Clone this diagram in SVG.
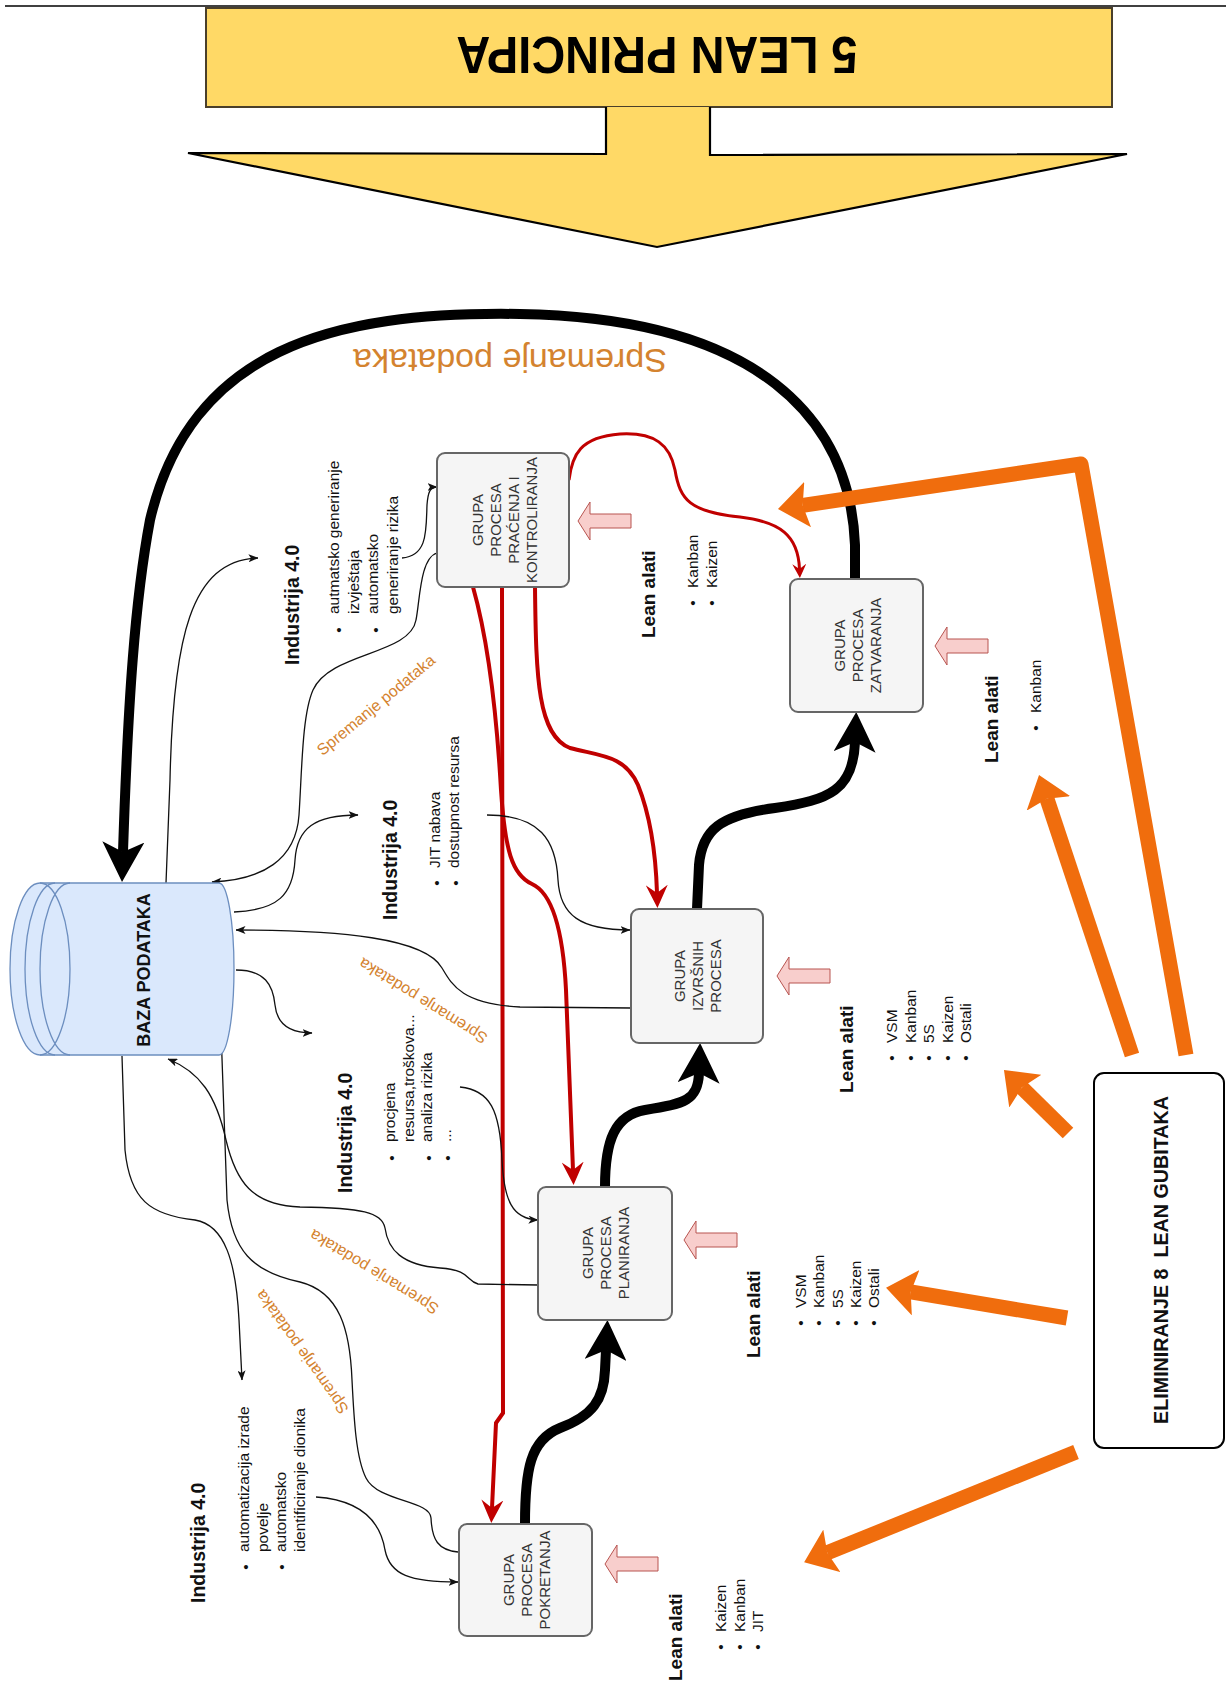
<svg xmlns="http://www.w3.org/2000/svg" width="1226" height="1683" viewBox="0 0 1226 1683">
<defs>
<style>
.node rect{fill:#f5f5f5;stroke:#666;stroke-width:2}
.nt{font-family:"Liberation Sans",Arial,sans-serif;font-size:15px;fill:#333;text-anchor:middle;dominant-baseline:central}
.li{font-family:"Liberation Sans",Arial,sans-serif;font-size:15.5px;fill:#111;dominant-baseline:central}
.bu{font-family:"Liberation Sans",Arial,sans-serif;font-size:15.5px;fill:#111;text-anchor:middle;dominant-baseline:central}
.hd{font-family:"Liberation Sans",Arial,sans-serif;font-size:19px;font-weight:bold;fill:#111;dominant-baseline:central}
.ind{font-family:"Liberation Sans",Arial,sans-serif;font-size:19.5px;font-weight:bold;fill:#111;dominant-baseline:central}
.sp{font-family:"Liberation Sans",Arial,sans-serif;font-size:16px;fill:#D4832F;text-anchor:middle;dominant-baseline:central}
.thin{fill:none;stroke:#111;stroke-width:1.3;marker-end:url(#mThin)}
.red{fill:none;stroke:#C00000;stroke-width:4;marker-end:url(#mRed)}
.redS{fill:none;stroke:#C00000;stroke-width:3;marker-end:url(#mRedS)}
.blk{fill:none;stroke:#000;stroke-width:10;marker-end:url(#mBlack)}
.org{fill:none;stroke:#F06D0D;stroke-width:15;stroke-linejoin:round;marker-end:url(#mOrg)}
.pink{fill:#F8CECC;stroke:#B85450;stroke-width:1}
</style>
<marker id="mThin" viewBox="0 0 10 8" refX="9.5" refY="4" markerWidth="10" markerHeight="8" markerUnits="userSpaceOnUse" orient="auto"><path d="M0,0 L10,4 L0,8 L2.5,4 Z" fill="#111"/></marker>
<marker id="mBlack" viewBox="0 0 40 42" refX="10" refY="21" markerWidth="40" markerHeight="42" markerUnits="userSpaceOnUse" orient="auto"><path d="M0,0 L40,21 L0,42 L10,21 Z" fill="#000"/></marker>
<marker id="mRed" viewBox="0 0 23 22" refX="8" refY="11" markerWidth="23" markerHeight="22" markerUnits="userSpaceOnUse" orient="auto"><path d="M0,0 L23,11 L0,22 L8,11 Z" fill="#C00000"/></marker>
<marker id="mRedS" viewBox="0 0 14 14" refX="5" refY="7" markerWidth="14" markerHeight="14" markerUnits="userSpaceOnUse" orient="auto"><path d="M0,0 L14,7 L0,14 L5,7 Z" fill="#C00000"/></marker>
<marker id="mOrg" viewBox="0 0 30 46" refX="5" refY="23" markerWidth="30" markerHeight="46" markerUnits="userSpaceOnUse" orient="auto"><path d="M0,0 L30,23 L0,46 L5,23 Z" fill="#F06D0D"/></marker>
<path id="pk" d="M0,0 L12,-19 L12,-7 L53,-7 L53,7 L12,7 L12,19 Z"/>
</defs>

<rect width="1226" height="1683" fill="#fff"/>
<line x1="5" y1="6" x2="1226" y2="6" stroke="#000" stroke-width="1.5"/>

<g id="lean-principi">
<rect x="206" y="8" width="906" height="99" fill="#FFD966" stroke="#4a3f2a" stroke-width="2"/>
<path d="M606,107 L606,154 L188,153 L657,247 L1127,154 L710,155 L710,107" fill="#FFD966" stroke="#000" stroke-width="2.2" stroke-linejoin="miter"/>
<text transform="translate(657 55) rotate(180) scale(1 1.1)" font-family="Liberation Sans, Arial, sans-serif" font-size="47" font-weight="bold" fill="#000" text-anchor="middle" dominant-baseline="central">5 LEAN PRINCIPA</text>
</g>

<g id="connectors">
<path class="blk" stroke-width="9" d="M855,579 L855,545 C850,420 760,318 520,314 C330,311 190,350 150,520 C135,600 128,700 123,852"/>
<path class="blk" d="M525,1524 C525,1470 530,1440 560,1428 C592,1416 604,1400 605,1370 L606,1350"/>
<path class="blk" d="M605,1187 C605,1140 615,1115 645,1110 C685,1104 698,1100 699,1073"/>
<path class="blk" d="M697,909 L699,865 C702,830 720,815 775,808 C830,800 853,790 855,742"/>
<path class="red" d="M473,587 C488,640 497,720 501,790 C505,850 512,875 532,884 C552,893 563,930 566,990 L573,1170"/>
<path class="red" d="M502,587 L503,1413 L496,1423 L492,1508"/>
<path class="red" d="M535,587 C536,680 538,735 570,748 C600,756 625,755 638,785 C652,820 656,860 657,893"/>
<path class="redS" d="M569,480 C572,455 580,437 620,434 C655,432 670,445 675,470 C680,500 690,512 740,517 C780,522 798,535 799.5,569"/>
<path class="thin" d="M166,883 L170,780 C173,640 190,560 258,558"/>
<path class="thin" d="M402,558 C428,556 426,530 427,505 C428,492 430,487 437,487"/>
<path class="thin" d="M437,553 C420,558 420,600 416,620 C410,655 330,652 313,690 C302,715 302,770 299,815 C296,860 262,880 212,882"/>
<path class="thin" d="M234,912 C278,910 293,895 295,860 C297,828 315,815 358,815"/>
<path class="thin" d="M487,815 C540,815 556,840 558,880 C560,915 580,930 630,930"/>
<path class="thin" d="M631,1008 L520,1007 C462,1004 452,985 442,968 C425,938 340,930 236,930"/>
<path class="thin" d="M236,970 C265,970 273,985 275,1005 C277,1025 290,1033 312,1033"/>
<path class="thin" d="M460,1087 C490,1090 500,1110 502,1160 C504,1200 512,1219 538,1220"/>
<path class="thin" d="M538,1285 L478,1284 C466,1281 471,1270 440,1268 C402,1265 388,1250 385,1228 C382,1212 362,1208 300,1207 C252,1205 236,1182 226,1140 C216,1095 200,1072 168,1059"/>
<path class="thin" d="M458,1552 C438,1550 432,1540 431,1518 C430,1500 378,1502 366,1478 C356,1458 354,1420 352,1380 C350,1330 340,1292 300,1282 C252,1272 232,1250 227,1200 L221,1030"/>
<path class="thin" d="M122,1056 L125,1150 C130,1200 150,1215 195,1220 C225,1225 236,1262 239,1320 L242,1380"/>
<path class="thin" d="M316,1497 C360,1500 380,1520 385,1550 C390,1575 410,1582 458,1582"/>
<path class="org" d="M1186,1055 L1081,464 L802.7,505.3"/>
<path class="org" d="M1132,1055 L1046.9,798.7"/>
<path class="org" d="M1068,1133 L1021.8,1087.6"/>
<path class="org" d="M1067,1318 L910.7,1291.9"/>
<path class="org" d="M1076,1452 L827.3,1552.8"/>
<use href="#pk" class="pink" x="578" y="521"/>
<use href="#pk" class="pink" x="935" y="646"/>
<use href="#pk" class="pink" x="777" y="976"/>
<use href="#pk" class="pink" x="684" y="1240"/>
<use href="#pk" class="pink" x="605" y="1564"/>
</g>

<g id="labels">
<text transform="translate(510 361) rotate(180)" font-family="Liberation Sans, Arial, sans-serif" font-size="34" fill="#D4832F" text-anchor="middle" dominant-baseline="central">Spremanje podataka</text>
<text class="sp" transform="translate(376 705) rotate(-39.6)">Spremanje podataka</text>
<text class="sp" transform="translate(423 1001) rotate(211.8)">Spremanje podataka</text>
<text class="sp" transform="translate(374 1272) rotate(211.4)">Spremanje podataka</text>
<text class="sp" transform="translate(302 1352) rotate(234.6)">Spremanje podataka</text>
</g>

<g id="baza">
<path d="M40,883 L219,883 A15,86 0 0 1 219,1055 L40,1055 A30,86 0 0 1 40,883 Z" fill="#dae8fc" stroke="#6c8ebf" stroke-width="1.3"/>
<path d="M55,883 A30,86 0 0 0 55,1055 M70,883 A30,86 0 0 0 70,1055 M40,883 A30,86 0 0 1 40,1055" fill="none" stroke="#6c8ebf" stroke-width="1.3"/>
<text transform="translate(144 970) rotate(-90)" font-family="Liberation Sans, Arial, sans-serif" font-size="18" font-weight="bold" fill="#111" text-anchor="middle" dominant-baseline="central">BAZA PODATAKA</text>
</g>

<g id="kontrola" class="node">
<rect x="437" y="453" width="132" height="134" rx="8"/>
<text class="nt" transform="translate(477.5 520) rotate(-90)">GRUPA</text>
<text class="nt" transform="translate(495.5 520) rotate(-90)">PROCESA</text>
<text class="nt" transform="translate(513.5 520) rotate(-90)">PRAĆENJA I</text>
<text class="nt" transform="translate(531.5 520) rotate(-90)">KONTROLIRANJA</text>
</g>
<g id="zatvaranje" class="node">
<rect x="790" y="579" width="133" height="133" rx="8"/>
<text class="nt" transform="translate(839 645.5) rotate(-90)">GRUPA</text>
<text class="nt" transform="translate(857 645.5) rotate(-90)">PROCESA</text>
<text class="nt" transform="translate(875 645.5) rotate(-90)">ZATVARANJA</text>
</g>
<g id="izvrsenje" class="node">
<rect x="631" y="909" width="132" height="134" rx="8"/>
<text class="nt" transform="translate(679 976) rotate(-90)">GRUPA</text>
<text class="nt" transform="translate(697 976) rotate(-90)">IZVRŠNIH</text>
<text class="nt" transform="translate(715 976) rotate(-90)">PROCESA</text>
</g>
<g id="planiranje" class="node">
<rect x="538" y="1187" width="134" height="133" rx="8"/>
<text class="nt" transform="translate(587 1253) rotate(-90)">GRUPA</text>
<text class="nt" transform="translate(605 1253) rotate(-90)">PROCESA</text>
<text class="nt" transform="translate(623 1253) rotate(-90)">PLANIRANJA</text>
</g>
<g id="pokretanje" class="node">
<rect x="459" y="1524" width="133" height="112" rx="8"/>
<text class="nt" transform="translate(508 1580) rotate(-90)">GRUPA</text>
<text class="nt" transform="translate(526 1580) rotate(-90)">PROCESA</text>
<text class="nt" transform="translate(544 1580) rotate(-90)">POKRETANJA</text>
</g>

<g id="eliminiranje">
<rect x="1094" y="1073" width="130" height="375" rx="10" fill="#fff" stroke="#000" stroke-width="2"/>
<text xml:space="preserve" transform="translate(1161 1260) rotate(-90)" font-family="Liberation Sans, Arial, sans-serif" font-size="19.7" font-weight="bold" fill="#111" text-anchor="middle" dominant-baseline="central">ELIMINIRANJE 8  LEAN GUBITAKA</text>
</g>

<g id="lean-alati-kontrola">
<text class="hd" transform="translate(648 638) rotate(-90)">Lean alati</text>
<text class="bu" transform="translate(692 603) rotate(-90)">•</text>
<text class="bu" transform="translate(711 603) rotate(-90)">•</text>
<text class="li" transform="translate(692 588) rotate(-90)">Kanban</text>
<text class="li" transform="translate(711 588) rotate(-90)">Kaizen</text>
</g>
<g id="lean-alati-zatvaranje">
<text class="hd" transform="translate(991 763) rotate(-90)">Lean alati</text>
<text class="bu" transform="translate(1035 728) rotate(-90)">•</text>
<text class="li" transform="translate(1035 713) rotate(-90)">Kanban</text>
</g>
<g id="lean-alati-izvrsenje">
<text class="hd" transform="translate(846 1093) rotate(-90)">Lean alati</text>
<text class="bu" transform="translate(891 1058) rotate(-90)">•</text>
<text class="bu" transform="translate(910 1058) rotate(-90)">•</text>
<text class="bu" transform="translate(928 1058) rotate(-90)">•</text>
<text class="bu" transform="translate(947 1058) rotate(-90)">•</text>
<text class="bu" transform="translate(965 1058) rotate(-90)">•</text>
<text class="li" transform="translate(891 1043) rotate(-90)">VSM</text>
<text class="li" transform="translate(910 1043) rotate(-90)">Kanban</text>
<text class="li" transform="translate(928 1043) rotate(-90)">5S</text>
<text class="li" transform="translate(947 1043) rotate(-90)">Kaizen</text>
<text class="li" transform="translate(965 1043) rotate(-90)">Ostali</text>
</g>
<g id="lean-alati-planiranje">
<text class="hd" transform="translate(753 1358) rotate(-90)">Lean alati</text>
<text class="bu" transform="translate(800 1323) rotate(-90)">•</text>
<text class="bu" transform="translate(818 1323) rotate(-90)">•</text>
<text class="bu" transform="translate(837 1323) rotate(-90)">•</text>
<text class="bu" transform="translate(855 1323) rotate(-90)">•</text>
<text class="bu" transform="translate(873 1323) rotate(-90)">•</text>
<text class="li" transform="translate(800 1308) rotate(-90)">VSM</text>
<text class="li" transform="translate(818 1308) rotate(-90)">Kanban</text>
<text class="li" transform="translate(837 1308) rotate(-90)">5S</text>
<text class="li" transform="translate(855 1308) rotate(-90)">Kaizen</text>
<text class="li" transform="translate(873 1308) rotate(-90)">Ostali</text>
</g>
<g id="lean-alati-pokretanje">
<text class="hd" transform="translate(675 1681) rotate(-90)">Lean alati</text>
<text class="bu" transform="translate(720 1647) rotate(-90)">•</text>
<text class="bu" transform="translate(739 1647) rotate(-90)">•</text>
<text class="bu" transform="translate(757 1647) rotate(-90)">•</text>
<text class="li" transform="translate(720 1632) rotate(-90)">Kaizen</text>
<text class="li" transform="translate(739 1632) rotate(-90)">Kanban</text>
<text class="li" transform="translate(757 1632) rotate(-90)">JIT</text>
</g>

<g id="industrija-kontrola">
<text class="ind" transform="translate(292 665) rotate(-90)">Industrija 4.0</text>
<text class="bu" transform="translate(338 630) rotate(-90)">•</text>
<text class="bu" transform="translate(375 630) rotate(-90)">•</text>
<text class="li" transform="translate(333 614) rotate(-90)">autmatsko generiranje</text>
<text class="li" transform="translate(353 614) rotate(-90)">izvještaja</text>
<text class="li" transform="translate(372 614) rotate(-90)">automatsko</text>
<text class="li" transform="translate(392 614) rotate(-90)">generiranje rizika</text>
</g>
<g id="industrija-izvrsenje">
<text class="ind" transform="translate(390 920) rotate(-90)">Industrija 4.0</text>
<text class="bu" transform="translate(436 883) rotate(-90)">•</text>
<text class="bu" transform="translate(455 883) rotate(-90)">•</text>
<text class="li" transform="translate(434 868) rotate(-90)">JIT nabava</text>
<text class="li" transform="translate(453 868) rotate(-90)">dostupnost resursa</text>
</g>
<g id="industrija-planiranje">
<text class="ind" transform="translate(345 1193) rotate(-90)">Industrija 4.0</text>
<text class="bu" transform="translate(391 1158) rotate(-90)">•</text>
<text class="bu" transform="translate(428 1158) rotate(-90)">•</text>
<text class="bu" transform="translate(447 1158) rotate(-90)">•</text>
<text class="li" transform="translate(389 1142) rotate(-90)">procjena</text>
<text class="li" transform="translate(408 1142) rotate(-90)">resursa,troškova...</text>
<text class="li" transform="translate(426 1142) rotate(-90)">analiza rizika</text>
<text class="li" transform="translate(445 1142) rotate(-90)">...</text>
</g>
<g id="industrija-pokretanje">
<text class="ind" transform="translate(198 1603) rotate(-90)">Industrija 4.0</text>
<text class="bu" transform="translate(245 1567) rotate(-90)">•</text>
<text class="bu" transform="translate(281 1567) rotate(-90)">•</text>
<text class="li" transform="translate(243 1552) rotate(-90)">automatizacija izrade</text>
<text class="li" transform="translate(262 1552) rotate(-90)">povelje</text>
<text class="li" transform="translate(280 1552) rotate(-90)">automatsko</text>
<text class="li" transform="translate(299 1552) rotate(-90)">identificiranje dionika</text>
</g>
</svg>
